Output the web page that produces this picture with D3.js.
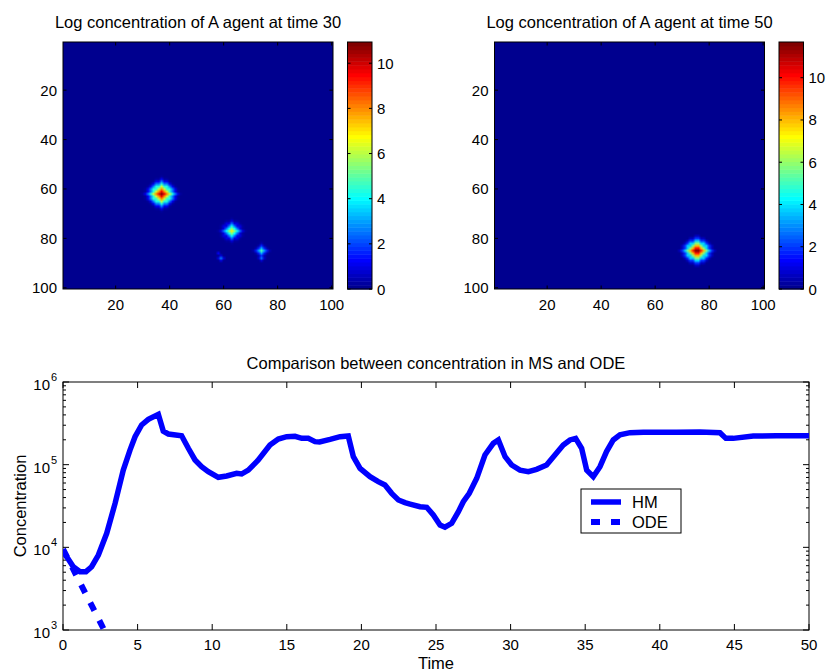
<!DOCTYPE html>
<html><head><meta charset="utf-8">
<script src="https://cdn.jsdelivr.net/npm/d3@7"></script>
<style>
html,body{margin:0;padding:0;background:#fff;}
svg{display:block;font-family:"Liberation Sans",Arial,sans-serif;}
</style></head>
<body>
<svg id="chart" width="829" height="672"></svg>
<script>
// ---------- DATA ----------
// Heatmap at time 30: blob centres (column, row) and log-concentration profile by distance from centre
const map30Cols = [37, 63, 66, 74, 74, 59, 58];
const map30Rows = [62, 77, 77, 85, 88, 88, 86];
const map30Profiles = [
  [10.9, 9.6, 8.0, 6.2, 4.4, 2.6, 1.1, 0.3],
  [7.0, 5.6, 4.0, 2.4, 1.0, 0.3],
  [1.2],
  [4.8, 3.2, 1.6, 0.5],
  [2.4, 0.8],
  [2.6, 0.9],
  [1.2]
];
const map30Max = 10.94;
// Heatmap at time 50
const map50Cols = [75, 76];
const map50Rows = [85, 85];
const map50Profiles = [
  [11.69, 10.0, 8.0, 5.8, 3.8, 1.9, 0.6],
  [11.69, 10.0, 8.0, 5.8, 3.8, 1.9, 0.6]
];
const map50Max = 11.69;
const mapTicks = [20, 40, 60, 80, 100];
const colorbarTicks = [0, 2, 4, 6, 8, 10];

// Comparison chart
const hmTime = [0, 0.69, 1.14, 1.54, 1.92, 2.37, 2.93, 3.49, 4.04, 4.49, 4.83, 5.27, 5.72, 6.39, 6.72, 7.06, 7.95, 8.40, 8.85, 9.29, 9.74, 10.41, 10.97, 11.64, 11.97, 12.42, 13.09, 13.87, 14.43, 14.99, 15.55, 16.0, 16.44, 16.89, 17.2, 17.9, 18.57, 19.12, 19.46, 19.91, 20.58, 21.13, 21.58, 22.03, 22.48, 22.92, 23.26, 23.93, 24.38, 24.82, 25.27, 25.6, 26.05, 26.5, 26.83, 27.23, 27.73, 28.28, 28.84, 29.18, 29.63, 30.07, 30.63, 31.19, 31.74, 32.41, 32.97, 33.53, 33.98, 34.36, 34.76, 35.1, 35.54, 35.99, 36.43, 36.88, 37.33, 38.0, 38.9, 41.13, 42.69, 44.03, 44.43, 44.92, 46.26, 47.82, 50];
const hmValue = [9000, 5830, 5080, 5080, 5830, 8070, 14760, 34000, 86000, 150000, 218000, 302000, 353000, 406000, 255000, 235000, 224000, 158000, 114000, 94600, 82300, 70300, 72900, 78500, 77100, 86000, 114000, 173000, 204000, 218000, 220000, 208000, 208000, 190000, 188000, 202000, 218000, 222000, 125000, 90300, 71600, 62300, 56700, 45000, 37400, 34700, 33400, 31000, 30500, 24600, 18600, 17500, 19500, 27000, 35600, 45000, 68400, 131000, 181000, 199000, 125000, 99100, 86000, 82300, 87900, 99100, 131000, 173000, 199000, 208000, 158000, 86000, 71600, 94600, 144000, 199000, 229000, 244000, 246000, 246000, 248000, 244000, 208000, 208000, 222000, 224000, 224000];
const odeTime = [0, 0.5, 1, 1.5, 2, 2.5, 3];
const odeValue = [9500, 6320, 4200, 2790, 1860, 1235, 820];
const timeTicks = [0, 5, 10, 15, 20, 25, 30, 35, 40, 45, 50];
const concTicks = [1e3, 1e4, 1e5, 1e6];
const seriesNames = ["HM", "ODE"];

// ---------- HELPERS ----------
function jet(m) {
  const n = Math.ceil(m / 4);
  const u = [];
  for (let k = 1; k <= n; k++) u.push(k / n);
  for (let k = 1; k < n; k++) u.push(1);
  for (let k = n; k >= 1; k--) u.push(k / n);
  const L = u.length;
  const g0 = Math.ceil(n / 2) - (m % 4 === 1 ? 1 : 0);
  const J = [];
  for (let i = 0; i < m; i++) J.push([0, 0, 0]);
  for (let k = 1; k <= L; k++) {
    const g = g0 + k, r = g + n, b = g - n;
    if (r >= 1 && r <= m) J[r - 1][0] = u[k - 1];
    if (g >= 1 && g <= m) J[g - 1][1] = u[k - 1];
    if (b >= 1 && b <= m) J[b - 1][2] = u[k - 1];
  }
  return J.map(c => c.map(v => Math.round(v * 255)));
}
const JET = jet(64);
function colorIndex(v, cmax) {
  let i = Math.floor(v / cmax * 64);
  return Math.max(0, Math.min(63, i));
}

const svg = d3.select("#chart");
const FS = 15;
const LFS = 16.5;

function buildGrid(cols, rows, profiles) {
  const grid = new Float32Array(100 * 100);
  cols.forEach((c, bi) => {
    const r = rows[bi], prof = profiles[bi], R = prof.length;
    for (let dy = -R; dy <= R; dy++) for (let dx = -R; dx <= R; dx++) {
      const cc = c + dx, rr = r + dy;
      if (cc < 1 || cc > 100 || rr < 1 || rr > 100) continue;
      const d = Math.round(0.6 * (Math.abs(dx) + Math.abs(dy)) + 0.4 * Math.hypot(dx, dy));
      if (d < R) {
        const idx = (rr - 1) * 100 + (cc - 1);
        grid[idx] = Math.max(grid[idx], prof[d]);
      }
    }
  });
  return grid;
}

function drawHeat(x0, x1, y0, y1, cb0, cb1, cmax, cols, rows, profiles, title) {
  const g = svg.append("g");
  const xs = d3.scaleLinear().domain([0.5, 100.5]).range([x0, x1]);
  const ys = d3.scaleLinear().domain([0.5, 100.5]).range([y0, y1]);
  const grid = buildGrid(cols, rows, profiles);
  const cv = document.createElement("canvas");
  cv.width = 100; cv.height = 100;
  const ctx = cv.getContext("2d");
  const img = ctx.createImageData(100, 100);
  for (let i = 0; i < 10000; i++) {
    const c = JET[colorIndex(grid[i], cmax)];
    img.data[i * 4] = c[0]; img.data[i * 4 + 1] = c[1]; img.data[i * 4 + 2] = c[2]; img.data[i * 4 + 3] = 255;
  }
  ctx.putImageData(img, 0, 0);
  g.append("image").attr("href", cv.toDataURL())
    .attr("x", x0).attr("y", y0).attr("width", x1 - x0).attr("height", y1 - y0)
    .attr("preserveAspectRatio", "none");
  const tk = 3.5;
  mapTicks.forEach(t => {
    const px = xs(t), py = ys(t);
    g.append("line").attr("x1", px).attr("x2", px).attr("y1", y1).attr("y2", y1 - tk).attr("stroke", "#000");
    g.append("line").attr("x1", px).attr("x2", px).attr("y1", y0).attr("y2", y0 + tk).attr("stroke", "#000");
    g.append("line").attr("x1", x0).attr("x2", x0 + tk).attr("y1", py).attr("y2", py).attr("stroke", "#000");
    g.append("line").attr("x1", x1).attr("x2", x1 - tk).attr("y1", py).attr("y2", py).attr("stroke", "#000");
    g.append("text").attr("x", px).attr("y", y1 + 21).attr("text-anchor", "middle")
      .attr("font-size", FS).text(t);
    g.append("text").attr("x", x0 - 6).attr("y", py + 5.5).attr("text-anchor", "end")
      .attr("font-size", FS).text(t);
  });
  g.append("rect").attr("x", x0).attr("y", y0).attr("width", x1 - x0).attr("height", y1 - y0)
    .attr("fill", "none").attr("stroke", "#000").attr("stroke-width", 1);
  g.append("text").attr("x", (x0 + x1) / 2).attr("y", 28).attr("text-anchor", "middle")
    .attr("font-size", LFS).text(title);
  const cs = d3.scaleLinear().domain([0, cmax]).range([y1, y0]);
  for (let i = 0; i < 64; i++) {
    const v0 = i / 64 * cmax, v1 = (i + 1) / 64 * cmax;
    const c = JET[i];
    g.append("rect").attr("x", cb0).attr("width", cb1 - cb0)
      .attr("y", cs(v1)).attr("height", cs(v0) - cs(v1) + 0.5)
      .attr("fill", `rgb(${c[0]},${c[1]},${c[2]})`);
  }
  g.append("rect").attr("x", cb0).attr("y", y0).attr("width", cb1 - cb0).attr("height", y1 - y0)
    .attr("fill", "none").attr("stroke", "#000");
  colorbarTicks.forEach(t => {
    const py = cs(t);
    g.append("line").attr("x1", cb1).attr("x2", cb1 - 3).attr("y1", py).attr("y2", py).attr("stroke", "#000");
    g.append("line").attr("x1", cb0).attr("x2", cb0 + 3).attr("y1", py).attr("y2", py).attr("stroke", "#000");
    g.append("text").attr("x", cb1 + 5).attr("y", py + 5.5).attr("font-size", FS).text(t);
  });
}

drawHeat(63, 333, 42, 289, 347.5, 372, map30Max, map30Cols, map30Rows, map30Profiles,
  "Log concentration of A agent at time 30");
drawHeat(494.5, 764.5, 42, 289, 779, 803.5, map50Max, map50Cols, map50Rows, map50Profiles,
  "Log concentration of A agent at time 50");

// ---------- COMPARISON CHART ----------
const L = 63, R = 809, T = 382, B = 630;
const x = d3.scaleLinear().domain([0, 50]).range([L, R]);
const y = d3.scaleLog().domain([1e3, 1e6]).range([B, T]);
const g2 = svg.append("g");
g2.append("defs").append("clipPath").attr("id", "plotclip")
  .append("rect").attr("x", L).attr("y", T).attr("width", R - L).attr("height", B - T);

timeTicks.forEach(t => {
  const px = x(t);
  g2.append("line").attr("x1", px).attr("x2", px).attr("y1", B).attr("y2", B - 6).attr("stroke", "#000");
  g2.append("line").attr("x1", px).attr("x2", px).attr("y1", T).attr("y2", T + 6).attr("stroke", "#000");
  g2.append("text").attr("x", px).attr("y", 650).attr("text-anchor", "middle").attr("font-size", FS).text(t);
});
for (let e = 3; e < 6; e++) {
  for (let m = 2; m <= 9; m++) {
    const py = y(m * Math.pow(10, e));
    g2.append("line").attr("x1", L).attr("x2", L + 3).attr("y1", py).attr("y2", py).attr("stroke", "#000");
    g2.append("line").attr("x1", R).attr("x2", R - 3).attr("y1", py).attr("y2", py).attr("stroke", "#000");
  }
}
concTicks.forEach(v => {
  const py = y(v);
  g2.append("line").attr("x1", L).attr("x2", L + 6).attr("y1", py).attr("y2", py).attr("stroke", "#000");
  g2.append("line").attr("x1", R).attr("x2", R - 6).attr("y1", py).attr("y2", py).attr("stroke", "#000");
  g2.append("text").attr("x", 50).attr("y", py + 8).attr("text-anchor", "end").attr("font-size", FS).text("10");
  const e = Math.round(Math.log10(v));
  g2.append("text").attr("x", 51).attr("y", py - 1).attr("font-size", 11).text(e);
});
g2.append("rect").attr("x", L).attr("y", T).attr("width", R - L).attr("height", B - T)
  .attr("fill", "none").attr("stroke", "#000");

const line = d3.line().x(d => x(d[0])).y(d => y(d[1]));
g2.append("path").datum(hmTime.map((t, i) => [t, hmValue[i]]))
  .attr("d", line).attr("fill", "none").attr("stroke", "#0000ff").attr("stroke-width", 5.5)
  .attr("clip-path", "url(#plotclip)");
g2.append("path").datum(odeTime.map((t, i) => [t, odeValue[i]]))
  .attr("d", line).attr("fill", "none").attr("stroke", "#0000ff").attr("stroke-width", 6)
  .attr("stroke-dasharray", "9,11").attr("clip-path", "url(#plotclip)");

g2.append("text").attr("x", (L + R) / 2).attr("y", 369).attr("text-anchor", "middle")
  .attr("font-size", LFS).text("Comparison between concentration in MS and ODE");
g2.append("text").attr("x", (L + R) / 2).attr("y", 669).attr("text-anchor", "middle")
  .attr("font-size", LFS).text("Time");
g2.append("text").attr("transform", `translate(26,${(T + B) / 2}) rotate(-90)`)
  .attr("text-anchor", "middle").attr("font-size", LFS).text("Concentration");

const lg = g2.append("g");
lg.append("rect").attr("x", 581).attr("y", 489).attr("width", 100).attr("height", 44)
  .attr("fill", "#fff").attr("stroke", "#000");
lg.append("line").attr("x1", 591).attr("x2", 621).attr("y1", 502).attr("y2", 502)
  .attr("stroke", "#0000ff").attr("stroke-width", 5.5);
lg.append("line").attr("x1", 591).attr("x2", 621).attr("y1", 522).attr("y2", 522)
  .attr("stroke", "#0000ff").attr("stroke-width", 6).attr("stroke-dasharray", "9,11");
lg.append("text").attr("x", 632).attr("y", 508).attr("font-size", LFS).text(seriesNames[0]);
lg.append("text").attr("x", 632).attr("y", 528).attr("font-size", LFS).text(seriesNames[1]);
</script>
</body></html>
